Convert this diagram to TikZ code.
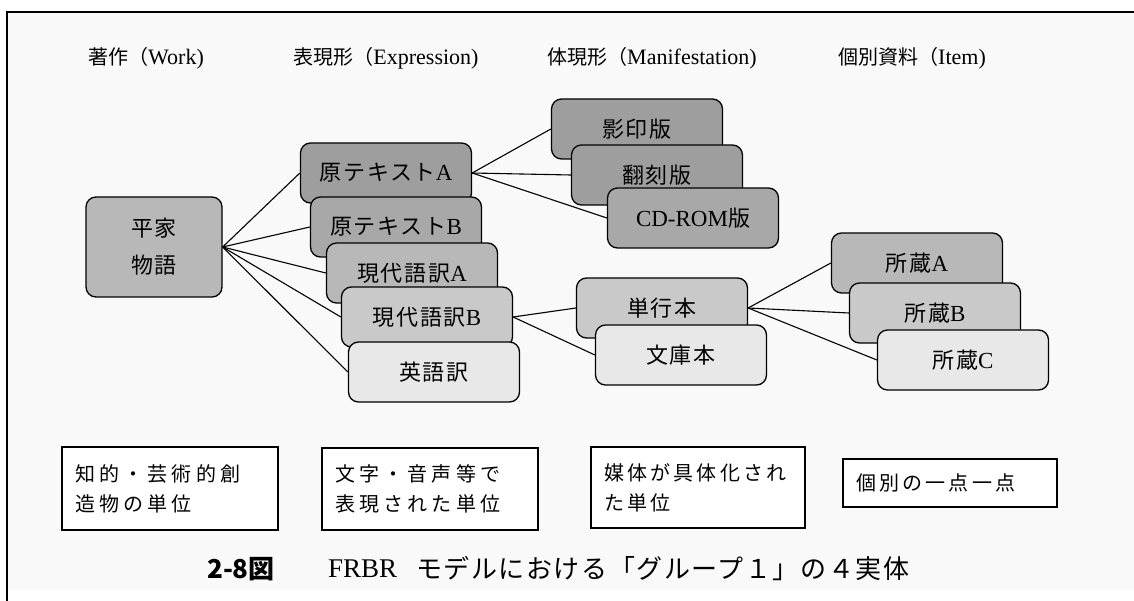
\documentclass[tikz,border=0pt]{standalone}
\usepackage{fontspec}
\setmainfont{Liberation Serif}
\newfontfamily\cjk{Noto Sans CJK JP}
\newfontfamily\cjkb[LetterSpace=8]{Noto Sans CJK JP}
\newfontfamily\cjkl[LetterSpace=21]{Noto Sans CJK JP}
\newfontfamily\cjkm[LetterSpace=16]{Noto Sans CJK JP}
\newfontfamily\cjkc[LetterSpace=6]{Noto Sans CJK JP}
\usetikzlibrary{backgrounds}
\newcommand\jh[1]{{\fontsize{20}{22}\selectfont\cjk #1}}
\newcommand\jb[1]{{\fontsize{22}{24}\selectfont\cjkb #1}}
\definecolor{gdark}{gray}{0.62}
\definecolor{gmidA}{gray}{0.66}
\definecolor{gmid}{gray}{0.72}
\definecolor{glight}{gray}{0.79}
\definecolor{gpale}{gray}{0.91}
\definecolor{paper}{gray}{0.975}
\begin{document}
\begin{tikzpicture}[x=1pt,y=-1pt,
  rbox/.style={draw, line width=1.3pt, rounded corners=10pt, minimum width=171pt,
    minimum height=60pt, inner sep=0pt, font=\fontsize{23}{26}\selectfont},
  lbox/.style={draw, line width=1.2pt, fill=white, inner xsep=13pt, inner ysep=0pt,
    align=left, font=\fontsize{20}{30}\selectfont\cjkl},
  conn/.style={line width=1.1pt},
  head/.style={font=\fontsize{22}{26}\selectfont, inner sep=0pt}]
\useasboundingbox (0,0) rectangle (1134,601);
\begin{pgfonlayer}{background}
\fill[white] (0,0) rectangle (1134,601);
\fill[paper] (8,13) rectangle (1134,590);
\draw[line width=2pt] (7,601) -- (7,12) -- (1134,12);
\end{pgfonlayer}

% column headings
\node[head] (hwork) at (146,58) {\jh{著作（}Work)};
\node[head] (hexpr) at (386,58) {\jh{表現形（}Expression)};
\node[head] (hmani) at (652,58) {\jh{体現形（}Manifestation)};
\node[head] (hitem) at (912,58) {\jh{個別資料（}Item)};

% work
\node[rbox, fill=gmid, minimum width=136pt, minimum height=100pt, align=center,
  font=\fontsize{22}{37}\selectfont\cjkb] (heike) at (154,247) {平家\\物語};

% expressions
\node[rbox, fill=gdark] (genA) at (386,173) {\jb{原テキスト}A};
\node[rbox, fill=gmidA] (genB) at (396,227) {\jb{原テキスト}B};
\node[rbox, fill=gmid] (gendaiA) at (412,273) {\jb{現代語訳}A};
\node[rbox, fill=glight] (gendaiB) at (427,317) {\jb{現代語訳}B};
\node[rbox, fill=gpale] (eigo) at (434,372) {\jb{英語訳}};

% manifestations
\node[rbox, fill=gdark] (eiin) at (637,129) {\jb{影印版}};
\node[rbox, fill=gdark] (honkoku) at (657,175) {\jb{翻刻版}};
\node[rbox, fill=gmidA] (cdrom) at (693,218) {CD-ROM\jb{版}};
\node[rbox, fill=glight] (tanko) at (662,308) {\jb{単行本}};
\node[rbox, fill=gpale] (bunko) at (681,355) {\jb{文庫本}};

% items
\node[rbox, fill=gmid] (shozoA) at (917,263) {\jb{所蔵}A};
\node[rbox, fill=glight] (shozoB) at (935,313) {\jb{所蔵}B};
\node[rbox, fill=gpale] (shozoC) at (963,360) {\jb{所蔵}C};

% connectors
\begin{pgfonlayer}{background}
\draw[conn] (heike.east) -- (genA.west);
\draw[conn] (heike.east) -- (genB.west);
\draw[conn] (heike.east) -- (gendaiA.west);
\draw[conn] (heike.east) -- (gendaiB.west);
\draw[conn] (heike.east) -- (eigo.west);
\draw[conn] (genA.east) -- (eiin.west);
\draw[conn] (genA.east) -- (honkoku.west);
\draw[conn] (genA.east) -- (cdrom.west);
\draw[conn] (gendaiB.east) -- (tanko.west);
\draw[conn] (gendaiB.east) -- (bunko.west);
\draw[conn] (tanko.east) -- (shozoA.west);
\draw[conn] (tanko.east) -- (shozoB.west);
\draw[conn] (tanko.east) -- (shozoC.west);
\end{pgfonlayer}

% explanation boxes
\node[lbox, text width=190pt, minimum height=83pt] (l1) at (170,488.5) {知的・芸術的創\\造物の単位};
\node[lbox, text width=190pt, minimum height=82pt] (l2) at (430,489) {文字・音声等で\\表現された単位};
\node[lbox, text width=188pt, minimum height=81pt, font=\fontsize{20}{30}\selectfont\cjkm] (l3) at (698,487.5) {媒体が具体化され\\た単位};
\node[lbox, text width=188pt, minimum height=48pt, font=\fontsize{20}{30}\selectfont\cjkm] (l4) at (950,483) {個別の一点一点};

% caption
\node[anchor=west, inner sep=0pt, font=\fontsize{26}{28}\selectfont\cjk\bfseries] (capnum) at (207,569) {2-8図};
\node[anchor=west, inner sep=0pt, font=\fontsize{27}{28}\selectfont] (capfrbr) at (328,569) {FRBR};
\node[anchor=west, inner sep=0pt, font=\fontsize{26}{28}\selectfont\cjkc] (captxt) at (416,569) {モデルにおける「グループ１」の４実体};
\end{tikzpicture}
\end{document}
